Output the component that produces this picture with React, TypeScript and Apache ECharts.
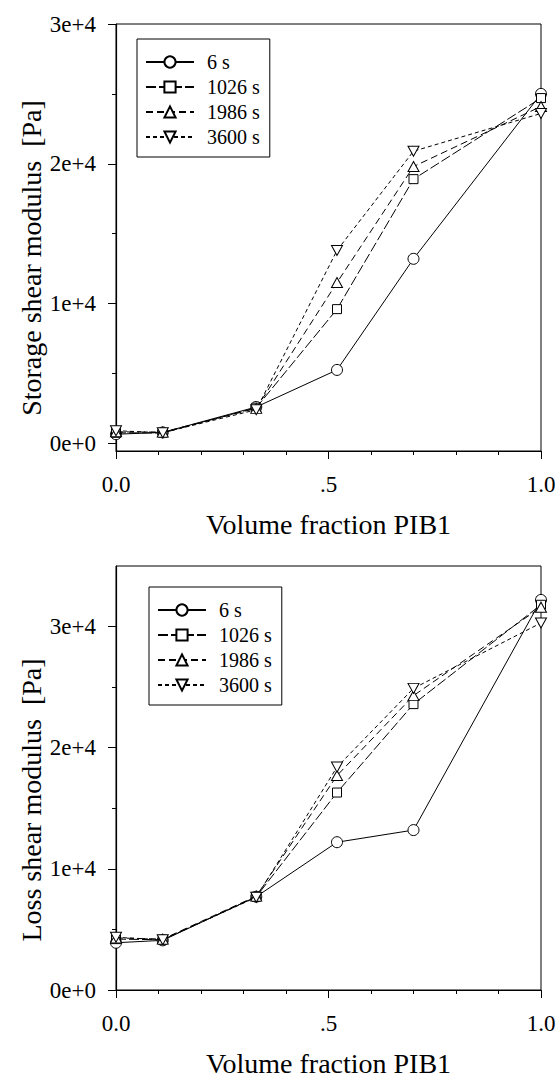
import React, { useEffect, useRef } from "react";
import * as echarts from "echarts";

// Volume fraction of PIB1 (x values)
const volumeFraction = [0, 0.11, 0.33, 0.52, 0.7, 1.0];
const seriesNames = ["6 s", "1026 s", "1986 s", "3600 s"];

// Storage shear modulus [Pa]
const storage6s = [650, 780, 2600, 5250, 13200, 25000];
const storage1026s = [750, 740, 2550, 9600, 18900, 24700];
const storage1986s = [820, 800, 2500, 11500, 19800, 24100];
const storage3600s = [900, 760, 2400, 13800, 20900, 23600];

// Loss shear modulus [Pa]
const loss6s = [3900, 4100, 7700, 12200, 13200, 32200];
const loss1026s = [4200, 4150, 7700, 16300, 23600, 31800];
const loss1986s = [4300, 4200, 7750, 17700, 24300, 31600];
const loss3600s = [4350, 4150, 7650, 18400, 24900, 30300];

const xTickLabels: Record<string, string> = { "0": "0.0", "0.5": ".5", "1": "1.0" };
const yMajorTicks = [0, 10000, 20000, 30000];
const yMinorTicks = [5000, 15000, 25000];
const xTitle = "Volume fraction PIB1";
const yTitleTop = "Storage shear modulus  [Pa]";
const yTitleBottom = "Loss shear modulus  [Pa]";

const FONT = "'Liberation Serif', 'Times New Roman', serif";

const symbols = ["circle", "rect", "triangle", "triangle"];
const symbolRotates = [0, 0, 0, 180];
const symbolSizes: any[] = [11, 9, [11, 10], [11, 10]];
const dashes: any[] = ["solid", [10, 3], [7, 4], [4, 3]];

function yLabel(v: number) {
  if (v === 0) return "0e+0";
  return `${Math.round(v / 10000)}e+4`;
}

function makeSeries(values: number[][], gridIdx: number) {
  return values.map((vals, i) => ({
    type: "line",
    name: seriesNames[i],
    xAxisIndex: gridIdx,
    yAxisIndex: gridIdx * 2,
    data: volumeFraction.map((x, k) => [x, vals[k]]),
    symbol: symbols[i],
    symbolRotate: symbolRotates[i],
    symbolSize: symbolSizes[i],
    showSymbol: true,
    clip: false,
    z: 2 + i,
    lineStyle: { color: "#000", width: 1, type: dashes[i] },
    itemStyle: { color: "#fff", borderColor: "#000", borderWidth: 1 },
    emphasis: { disabled: true },
  }));
}

export default function App() {
  const ref = useRef<HTMLDivElement>(null);
  useEffect(() => {
    document.body.style.margin = "0";
    if (!ref.current) return;
    const chart = echarts.init(ref.current, undefined, { renderer: "svg" });

    const xAxisCommon = {
      type: "value",
      min: 0,
      max: 1,
      interval: 0.5,
      name: xTitle,
      nameLocation: "middle",
      nameGap: 59,
      nameTextStyle: { fontFamily: FONT, fontSize: 28, color: "#000" },
      axisLine: { show: true, onZero: false, lineStyle: { color: "#000", width: 1.2 } },
      axisTick: { show: true, length: 8, lineStyle: { color: "#000", width: 1 } },
      minorTick: { show: true, splitNumber: 5, length: 4, lineStyle: { color: "#000", width: 1 } },
      axisLabel: {
        fontFamily: FONT,
        fontSize: 23,
        color: "#000",
        margin: 22,
        formatter: (v: number) => xTickLabels[String(v)] ?? "",
      },
      splitLine: { show: false },
      minorSplitLine: { show: false },
    };

    const yMain = (min: number, max: number, gridIndex: number) => ({
      type: "value",
      gridIndex,
      min,
      max,
      axisLine: { show: true, onZero: false, lineStyle: { color: "#000", width: 1.2 } },
      axisTick: { show: true, length: 8, customValues: yMajorTicks, lineStyle: { color: "#000", width: 1 } },
      axisLabel: {
        fontFamily: FONT,
        fontSize: 23,
        color: "#000",
        margin: 20,
        customValues: yMajorTicks,
        formatter: (v: number) => yLabel(v),
      },
      splitLine: { show: false },
    });

    const yMinor = (min: number, max: number, gridIndex: number) => ({
      type: "value",
      gridIndex,
      min,
      max,
      position: "left",
      axisLine: { show: false },
      axisTick: { show: true, length: 4, customValues: yMinorTicks, lineStyle: { color: "#000", width: 1 } },
      axisLabel: { show: false },
      splitLine: { show: false },
    });

    const legendCommon = {
      orient: "vertical",
      itemWidth: 48,
      itemHeight: 14,
      itemGap: 5,
      padding: [13, 10, 10, 8],
      borderColor: "#000",
      borderWidth: 1,
      backgroundColor: "#fff",
      selectedMode: false,
      textStyle: { fontFamily: FONT, fontSize: 20, lineHeight: 20, color: "#000", padding: [0, 0, 0, 8] },
      data: seriesNames,
    };

    const yTitle = (text: string, x: number, y: number) => ({
      type: "text",
      x,
      y,
      rotation: Math.PI / 2,
      style: {
        text,
        fontFamily: FONT,
        fontSize: 28,
        fill: "#000",
        align: "center",
        verticalAlign: "middle",
      },
    });

    chart.setOption({
      animation: false,
      backgroundColor: "#fff",
      textStyle: { fontFamily: FONT },
      grid: [
        { left: 116, top: 24, width: 425, height: 427, show: true, borderColor: "#000", borderWidth: 1, backgroundColor: "transparent" },
        { left: 116, top: 566, width: 425, height: 427, show: true, borderColor: "#000", borderWidth: 1, backgroundColor: "transparent" },
      ],
      xAxis: [
        { ...xAxisCommon, gridIndex: 0 },
        { ...xAxisCommon, gridIndex: 1 },
      ],
      yAxis: [
        yMain(-550, 30000, 0),
        yMinor(-550, 30000, 0),
        yMain(0, 35000, 1),
        yMinor(0, 35000, 1),
      ],
      legend: [
        { ...legendCommon, left: 137, top: 39 },
        { ...legendCommon, left: 149, top: 587 },
      ],
      graphic: [yTitle(yTitleTop, 31, 258), yTitle(yTitleBottom, 31, 800)],
      series: [
        ...makeSeries([storage6s, storage1026s, storage1986s, storage3600s], 0),
        ...makeSeries([loss6s, loss1026s, loss1986s, loss3600s], 1),
      ],
    });
    return () => chart.dispose();
  }, []);
  return <div ref={ref} style={{ width: 559, height: 1078 }} />;
}
